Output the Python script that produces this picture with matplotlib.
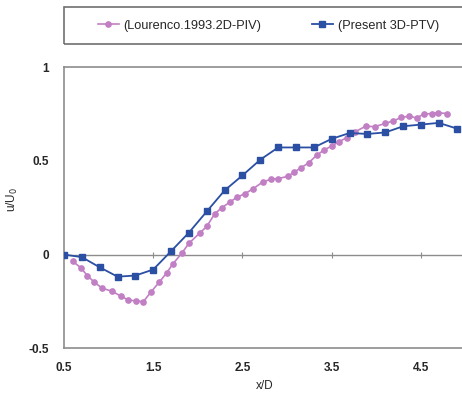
import matplotlib
matplotlib.use("Agg")
import matplotlib.pyplot as plt
from matplotlib.patches import Rectangle

plt.rcParams['font.family'] = ['Liberation Sans', 'DejaVu Sans']

# Lourenco 1993 2D-PIV
piv_x = [0.60, 0.69, 0.76, 0.84, 0.93, 1.04, 1.14, 1.22, 1.31, 1.39, 1.47, 1.57,
         1.65, 1.72, 1.82, 1.90, 2.02, 2.10, 2.19, 2.27, 2.36, 2.44, 2.53, 2.62,
         2.73, 2.82, 2.90, 3.01, 3.08, 3.16, 3.24, 3.33, 3.41, 3.50, 3.58, 3.67,
         3.76, 3.88, 3.98, 4.10, 4.19, 4.28, 4.37, 4.45, 4.53, 4.62, 4.69, 4.79]
piv_u = [-0.037, -0.071, -0.112, -0.148, -0.180, -0.196, -0.223, -0.242, -0.248, -0.251,
         -0.202, -0.146, -0.098, -0.050, 0.007, 0.060, 0.114, 0.150, 0.218, 0.250,
         0.280, 0.306, 0.325, 0.351, 0.388, 0.401, 0.405, 0.417, 0.440, 0.464,
         0.488, 0.529, 0.556, 0.579, 0.601, 0.624, 0.654, 0.684, 0.682, 0.699,
         0.713, 0.731, 0.738, 0.728, 0.749, 0.752, 0.756, 0.752]

# Present 3D-PTV
ptv_x = [0.5, 0.7, 0.9, 1.1, 1.3, 1.5, 1.7, 1.9, 2.1, 2.3, 2.5, 2.7, 2.9, 3.1, 3.3,
         3.5, 3.7, 3.9, 4.1, 4.3, 4.5, 4.7, 4.9]
ptv_u = [0.0, -0.014, -0.068, -0.118, -0.112, -0.080, 0.018, 0.117, 0.230, 0.342,
         0.422, 0.506, 0.571, 0.571, 0.571, 0.617, 0.648, 0.643, 0.651, 0.684,
         0.693, 0.702, 0.672]

xticks = [0.5, 1.5, 2.5, 3.5, 4.5]
xticklabels = ['0.5', '1.5', '2.5', '3.5', '4.5']
yticks = [-0.5, 0, 0.5, 1]
yticklabels = ['-0.5', '0', '0.5', '1']

W, H = 462, 397
fig = plt.figure(figsize=(W / 100, H / 100), dpi=100)
ax = fig.add_axes([64 / W, 1 - 348.3 / H, (465.6 - 64) / W, (348.3 - 67) / H])

pink = '#C17FC4'
blue = '#2A4FA3'
txt = '#262626'
l1, = ax.plot(piv_x, piv_u, '-o', color=pink, lw=1.2, ms=3.8, mec=pink, mfc=pink,
              label='(Lourenco.1993.2D-PIV)', zorder=3)
l2, = ax.plot(ptv_x, ptv_u, '-s', color=blue, lw=1.3, ms=5, mec=blue, mfc=blue,
              label='(Present 3D-PTV)', zorder=4)

ax.set_xlim(0.5, 5.0)
ax.set_ylim(-0.5, 1.0)
ax.set_xticks(xticks)
ax.set_xticklabels(xticklabels)
ax.set_yticks(yticks)
ax.set_yticklabels(yticklabels)
ax.tick_params(axis='both', length=0, labelsize=8.5, colors=txt)
ax.tick_params(axis='x', pad=10)
ax.tick_params(axis='y', pad=11)
for lab in ax.get_xticklabels() + ax.get_yticklabels():
    lab.set_fontweight('semibold')

for s in ['left', 'top', 'bottom', 'right']:
    ax.spines[s].set_color('#8c8c8c')
    ax.spines[s].set_linewidth(1.2)

# zero axis with ticks
sec = ax.secondary_xaxis(1 / 3)
sec.set_xticks(xticks)
sec.tick_params(axis='x', direction='inout', length=4, width=0.8, colors='#8c8c8c',
                labelbottom=False, labeltop=False)
sec.spines['bottom'].set_color('#8c8c8c')
sec.spines['top'].set_color('#8c8c8c')
sec.spines['top'].set_linewidth(1.0)
sec.spines['bottom'].set_linewidth(1.0)

ax.set_xlabel('x/D', fontsize=8.5, color=txt, labelpad=4)
ax.set_ylabel(r'u/U$_0$', fontsize=8.5, color=txt)
ax.yaxis.set_label_coords(-0.11, 0.53)

# legend box
fig.patches.append(Rectangle((64 / W, 1 - 44 / H), 420 / W, 37 / H, transform=fig.transFigure,
                             fill=False, edgecolor='#6f6f6f', lw=1.2))
fig.legend(handles=[l1, l2], loc='center left', bbox_to_anchor=(86 / W, 1 - 25.5 / H),
           ncol=2, frameon=False, fontsize=9.2, handlelength=1.7, handletextpad=0.35,
           columnspacing=3.9, labelcolor=txt)

fig.savefig('out.png', dpi=100)
